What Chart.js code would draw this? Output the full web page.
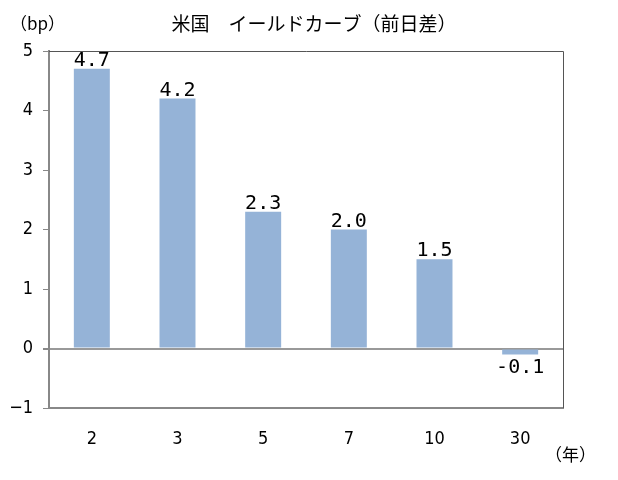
<!DOCTYPE html>
<html>
<head>
<meta charset="utf-8">
<script src="https://cdn.jsdelivr.net/npm/chart.js@4"></script>
<style>
  body { margin: 0; background: #fff; }
  #wrap { width: 618px; height: 480px; }
</style>
</head>
<body>
<div id="wrap"><canvas id="c" width="618" height="480"></canvas></div>
<script>
const titleText = "米国　イールドカーブ（前日差）";
const yUnit = "（bp）";
const xUnit = "（年）";
const maturities = ["2", "3", "5", "7", "10", "30"];
const changes = [4.7, 4.2, 2.3, 2.0, 1.5, -0.1];
const yTicks = [-1, 0, 1, 2, 3, 4, 5];

const tickFont = "'DejaVu Sans Condensed', 'Liberation Sans', sans-serif";
const labelFont = "'DejaVu Sans Mono', monospace";

// data labels, titles and frame drawn on top
const extras = {
    id: "extras",
    afterDatasetsDraw(chart) {
        let ctx = chart.ctx;
        let area = chart.chartArea;
        ctx.save();
        // frame top / right
        ctx.strokeStyle = "#555";
        ctx.lineWidth = 1;
        ctx.beginPath();
        ctx.moveTo(area.left, area.top + 0.5);
        ctx.lineTo(area.right + 0.5, area.top + 0.5);
        ctx.lineTo(area.right + 0.5, area.bottom);
        ctx.stroke();

        ctx.fillStyle = "#000";
        ctx.font = "20px " + labelFont;
        ctx.textAlign = "center";
        let meta = chart.getDatasetMeta(0);
        meta.data.forEach((bar, i) => {
            let v = changes[i];
            let txt = v.toFixed(1);
            if (v >= 0) {
                ctx.textBaseline = "bottom";
                ctx.fillText(txt, bar.x, bar.y + 2);
            } else {
                ctx.textBaseline = "top";
                ctx.fillText(txt, bar.x, bar.y + 3);
            }
        });

        ctx.font = "19px 'Noto Sans CJK JP', sans-serif";
        ctx.textBaseline = "middle";
        ctx.textAlign = "center";
        ctx.fillText(titleText, 314, 24);
        ctx.font = "17px 'Noto Sans CJK JP', sans-serif";
        ctx.textAlign = "left";
        ctx.fillText(yUnit, 10, 24);
        ctx.fillText(xUnit, 545, 455);
        ctx.restore();
    }
};

new Chart(document.getElementById("c"), {
    type: "bar",
    data: {
        labels: maturities,
        datasets: [{
            data: changes,
            backgroundColor: "#95B3D7",
            borderWidth: 0,
            categoryPercentage: 1,
            barPercentage: 0.42,
        }]
    },
    options: {
        responsive: false,
        animation: false,
        layout: { padding: { top: 51, right: 55, left: 0, bottom: 0 } },
        plugins: {
            legend: { display: false },
            title: { display: false },
            tooltip: { enabled: false },
        },
        scales: {
            x: {
                grid: { display: false },
                border: { display: true, color: "#888", width: 2 },
                ticks: {
                    color: "#000",
                    font: { size: 18, family: tickFont },
                    padding: 13,
                },
                afterFit(scale) { scale.height = 72; },
            },
            y: {
                min: -1,
                max: 5,
                afterBuildTicks(scale) {
                    scale.ticks = yTicks.map(v => ({ value: v }));
                },
                grid: {
                    color: ctx => ctx.tick && ctx.tick.value === 0 ? "#999" : "rgba(0,0,0,0)",
                    tickColor: "#888",
                    tickLength: 6,
                    lineWidth: ctx => ctx.tick && ctx.tick.value === 0 ? 2 : 1,
                },
                border: { display: true, color: "#888", width: 2 },
                ticks: {
                    color: "#000",
                    font: { size: 18, family: tickFont },
                    padding: 10,
                    callback: v => v < 0 ? "\u2212" + Math.abs(v) : String(v),
                },
                afterFit(scale) { scale.width = 49; },
            },
        },
    },
    plugins: [extras],
});
</script>
</body>
</html>
